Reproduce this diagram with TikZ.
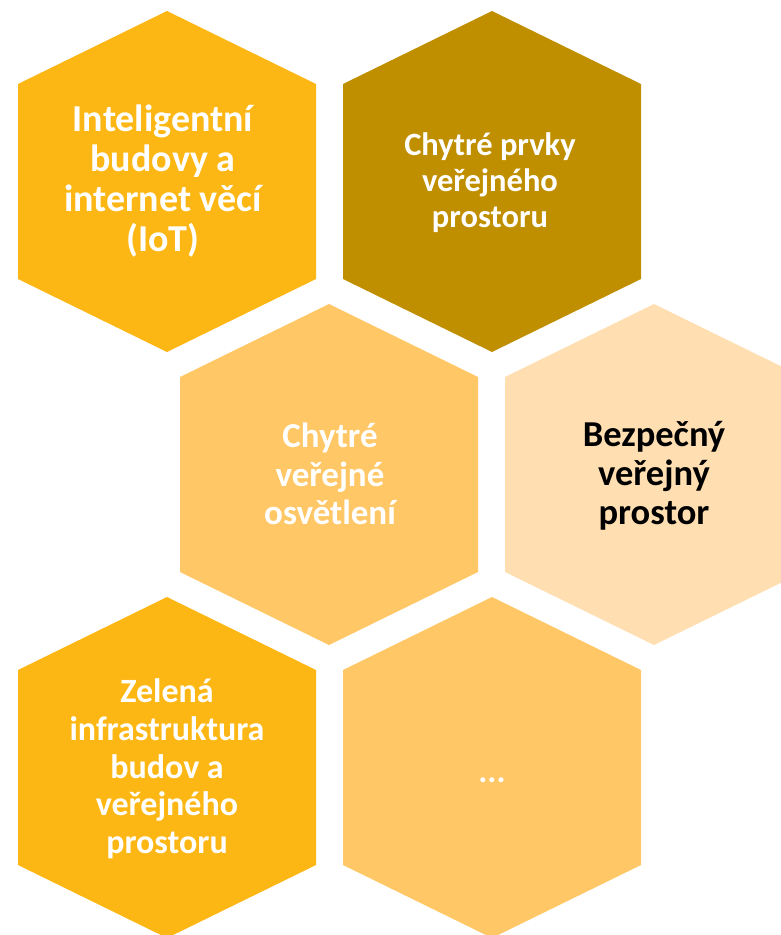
\documentclass[tikz,border=0pt]{standalone}
\usepackage{fontspec}
\setmainfont{Carlito}
\definecolor{gold}{HTML}{FDB714}
\definecolor{olive}{HTML}{BF8F00}
\definecolor{light}{HTML}{FFC766}
\definecolor{pale}{HTML}{FFDFB2}
\newcommand{\hexfill}[3]{%
  \fill[#3] (#1,#2) ++(0,-170.5) -- ++(149,73) -- ++(0,195) -- ++(-149,73) -- ++(-149,-73) -- ++(0,-195) -- cycle;}
\begin{document}
\begin{tikzpicture}[x=1pt,y=-1pt,
  lbl/.style={align=center,text=white,inner sep=0pt,font=\bfseries},
  big/.style={font=\fontsize{38}{40}\selectfont\bfseries},
  mid/.style={font=\fontsize{35}{38.5}\selectfont\bfseries},
  midb/.style={font=\fontsize{36.5}{39}\selectfont\bfseries},
  small/.style={font=\fontsize{32.5}{36}\selectfont\bfseries},
  green/.style={font=\fontsize{34}{37.7}\selectfont\bfseries}]
\useasboundingbox (0,0) rectangle (781,935);
\clip (0,0) rectangle (781,935);
\hexfill{167}{181.5}{gold}
\hexfill{492}{181.5}{olive}
\hexfill{329}{474.5}{light}
\hexfill{654}{474.5}{pale}
\hexfill{167}{767.5}{gold}
\hexfill{492}{767.5}{light}
\node[lbl,big] (t1) at (163,181) {Inteligentní\\budovy a\\internet věcí\\(IoT)};
\node[lbl,small] (t2) at (490,183) {Chytré prvky\\veřejného\\prostoru};
\node[lbl,mid] (t3) at (330,474) {Chytré\\veřejné\\osvětlení};
\node[lbl,midb,text=black] (t4) at (654,476) {Bezpečný\\veřejný\\prostor};
\node[lbl,green] (t5) at (167,769) {Zelená\\infrastruktura\\budov a\\veřejného\\prostoru};
\node[lbl,green,anchor=base] (t6) at (492,782) {...};
\end{tikzpicture}
\end{document}
